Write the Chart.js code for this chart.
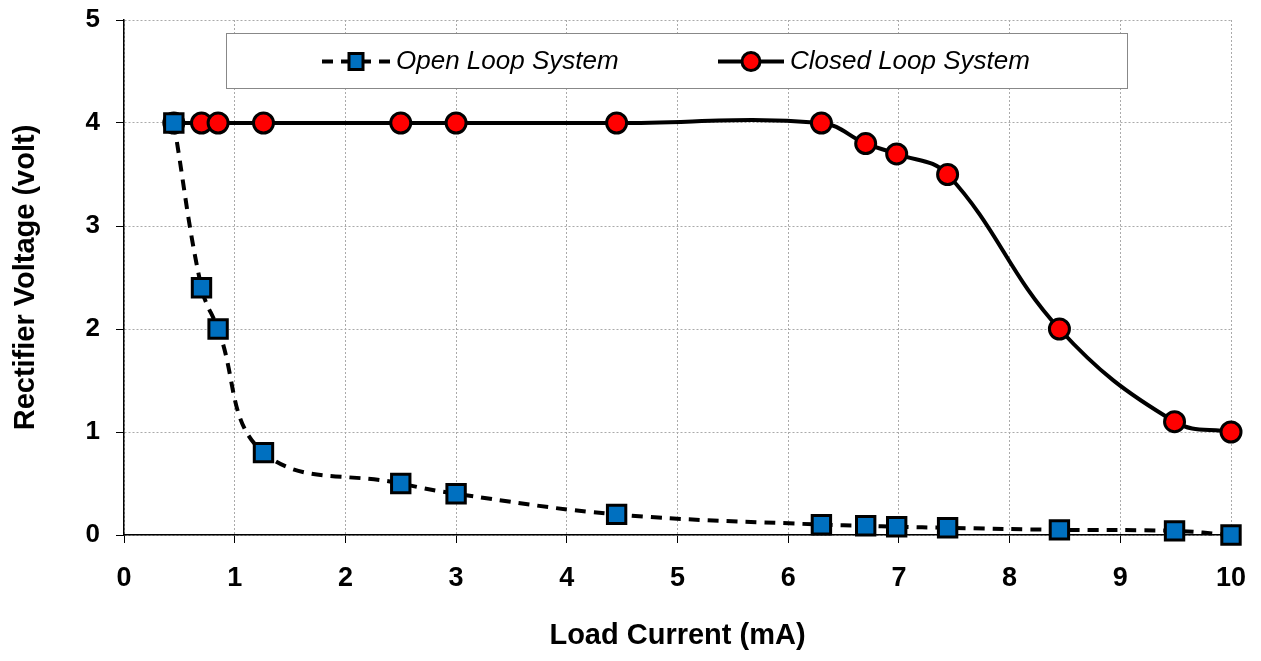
<!DOCTYPE html>
<html><head><meta charset="utf-8">
<script src="https://cdn.jsdelivr.net/npm/chart.js@4.4.0/dist/chart.umd.min.js"></script>
<style>html,body{margin:0;padding:0;background:#fff}#wrap{width:1261px;height:661px}</style>
</head><body><div id="wrap"><canvas id="c" width="1261" height="661"></canvas></div>
<script>
const loadCurrent = [0.45, 0.70, 0.85, 1.26, 2.50, 3.00, 4.45, 6.30, 6.70, 6.98, 7.44, 8.45, 9.49, 10.0];
const openLoop    = [4.0, 2.4, 2.0, 0.8, 0.5, 0.4, 0.2, 0.1, 0.09, 0.08, 0.07, 0.05, 0.04, 0.0];
const closedLoop  = [4.0, 4.0, 4.0, 4.0, 4.0, 4.0, 4.0, 4.0, 3.8, 3.7, 3.5, 2.0, 1.1, 1.0];
const seriesNames = ['Open Loop System', 'Closed Loop System'];
const xTitle = 'Load Current (mA)';
const yTitle = 'Rectifier Voltage (volt)';

const pts = (ys) => loadCurrent.map((x, i) => ({x, y: ys[i]}));
const FONT = '"Liberation Sans", Arial, sans-serif';

const legendPlugin = {
  id: 'boxLegend',
  afterDatasetsDraw(chart) {
    const ctx = chart.ctx;
    ctx.save();
    const bx = 226, by = 33, bw = 901, bh = 55;
    ctx.fillStyle = '#fff';
    ctx.fillRect(bx, by, bw, bh);
    ctx.strokeStyle = '#888';
    ctx.lineWidth = 1;
    ctx.strokeRect(bx + 0.5, by + 0.5, bw, bh);
    const cy = by + bh / 2 + 1;
    const items = [{x1: 322, x2: 390, tx: 396}, {x1: 718, x2: 784, tx: 790}];
    chart.data.datasets.forEach((ds, i) => {
      const it = items[i];
      ctx.strokeStyle = '#000';
      ctx.lineWidth = 4;
      ctx.setLineDash(ds.borderDash || []);
      ctx.beginPath(); ctx.moveTo(it.x1, cy); ctx.lineTo(it.x2, cy); ctx.stroke();
      ctx.setLineDash([]);
      const mx = (it.x1 + it.x2) / 2;
      ctx.fillStyle = ds.pointBackgroundColor;
      ctx.lineWidth = 3;
      if (ds.pointStyle === 'rect') {
        ctx.fillRect(mx - 7, cy - 8, 14, 16);
        ctx.strokeRect(mx - 7, cy - 8, 14, 16);
      } else {
        ctx.beginPath(); ctx.arc(mx, cy, 9, 0, Math.PI * 2); ctx.fill(); ctx.stroke();
      }
      ctx.fillStyle = '#000';
      ctx.font = 'italic 26px "Liberation Sans Narrow", "Liberation Sans", Arial';
      ctx.textBaseline = 'middle';
      ctx.textAlign = 'left';
      ctx.fillText(ds.label, it.tx, cy);
    });
    ctx.restore();
  }
};

new Chart(document.getElementById('c'), {
  type: 'scatter',
  data: {
    datasets: [
      {
        label: seriesNames[0], data: pts(openLoop), showLine: true,
        borderColor: '#000', borderWidth: 4, borderDash: [11, 8], tension: 0.4,
        pointStyle: 'rect', pointRadius: 13, pointHoverRadius: 13,
        pointBackgroundColor: '#0070C0', pointBorderColor: '#000', pointBorderWidth: 3
      },
      {
        label: seriesNames[1], data: pts(closedLoop), showLine: true,
        borderColor: '#000', borderWidth: 4, tension: 0.4,
        pointStyle: 'circle', pointRadius: 10, pointHoverRadius: 10,
        pointBackgroundColor: '#FF0000', pointBorderColor: '#000', pointBorderWidth: 3
      }
    ]
  },
  options: {
    responsive: false, animation: false, clip: false,
    layout: {padding: {left: 0, right: 30, top: 20, bottom: 0}},
    plugins: {legend: {display: false}, tooltip: {enabled: false}},
    scales: {
      x: {
        type: 'linear', min: 0, max: 10,
        ticks: {stepSize: 1, color: '#000', font: {family: FONT, size: 27, weight: 'bold'}, padding: 19},
        grid: {color: '#aaa', tickLength: 8, tickColor: '#000', drawTicks: true},
        border: {display: true, color: '#000', width: 1.5, dash: [2, 2]},
        title: {display: true, text: xTitle, color: '#000', font: {family: FONT, size: 29, weight: 'bold'}, padding: {top: 4, bottom: 8}},
        afterFit(s) { s.height = 126; s.paddingLeft = 0; s.paddingRight = 0; }
      },
      y: {
        min: 0, max: 5,
        ticks: {stepSize: 1, color: '#000', font: {family: FONT, size: 26, weight: 'bold'}, padding: 16},
        grid: {color: '#aaa', tickLength: 8, tickColor: '#000'},
        border: {display: true, color: '#000', width: 1.5, dash: [2, 2]},
        title: {display: true, text: yTitle, color: '#000', font: {family: FONT, size: 29, weight: 'bold'}, padding: {top: 9, bottom: 4}},
        afterFit(s) { s.width = 124; s.paddingTop = 0; s.paddingBottom = 0; }
      }
    }
  },
  plugins: [legendPlugin]
});
</script>
</body></html>
